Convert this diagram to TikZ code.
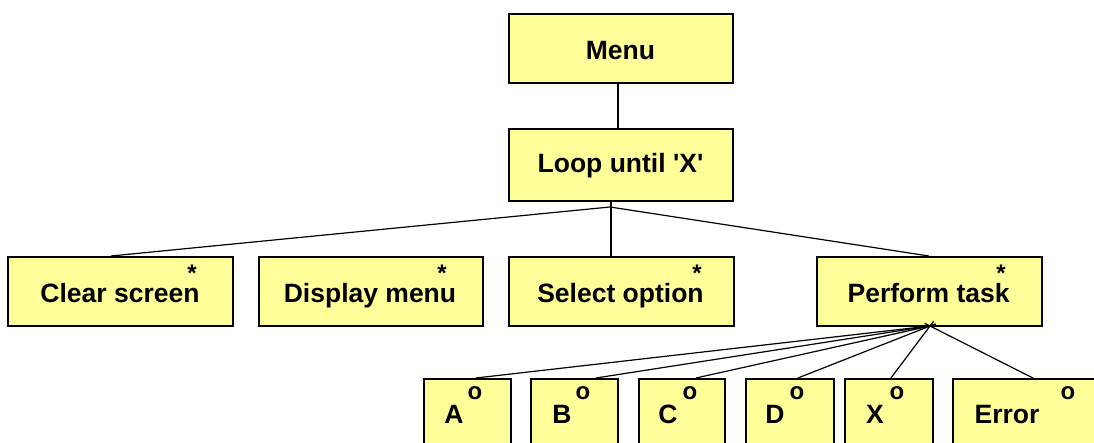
\documentclass[tikz,border=0pt]{standalone}
\usepackage{fontspec}
\setmainfont{Liberation Sans}
\definecolor{boxfill}{HTML}{FFFF99}
\tikzset{
  box/.style={draw=black, line width=1.8pt, fill=boxfill, inner sep=0pt, anchor=north west},
  txt/.style={font=\fontsize{26.5}{30}\selectfont\bfseries, anchor=base, inner sep=0pt},
  tag/.style={font=\fontsize{24}{28}\selectfont\bfseries, anchor=base, inner sep=0pt},
  conn/.style={line width=1.2pt},
}
\begin{document}
\begin{tikzpicture}[x=1pt,y=-1pt]
\useasboundingbox (0,0) rectangle (1094,443);
\clip (0,0) rectangle (1094,443);
% boxes
\node[box, minimum width=224pt, minimum height=69pt] (menu) at (508,13) {};
\node[box, minimum width=224pt, minimum height=72pt] (loop) at (508,128) {};
\node[box, minimum width=225pt, minimum height=69pt] (clear) at (7,256) {};
\node[box, minimum width=224pt, minimum height=69pt] (display) at (258,256) {};
\node[box, minimum width=225pt, minimum height=69pt] (select) at (508,256) {};
\node[box, minimum width=225pt, minimum height=69pt] (perform) at (816,256) {};
\node[box, minimum width=87pt, minimum height=80pt] (a) at (423,378) {};
\node[box, minimum width=87pt, minimum height=80pt] (b) at (530,378) {};
\node[box, minimum width=86pt, minimum height=80pt] (c) at (638,378) {};
\node[box, minimum width=88pt, minimum height=80pt] (d) at (745,378) {};
\node[box, minimum width=88pt, minimum height=80pt] (x) at (844,378) {};
\node[box, minimum width=160pt, minimum height=80pt] (err) at (952,378) {};
% texts
\node[txt] (menuT) at (620.5,59.3) {Menu};
\node[txt] (loopT) at (620.5,172.7) {Loop until \textquotesingle X\textquotesingle};
\node[txt] (clearT) at (120,302.5) {Clear screen};
\node[txt] (displayT) at (370,302.5) {Display menu};
\node[txt] (selectT) at (620.5,302.5) {Select option};
\node[txt] (performT) at (928.7,302.5) {Perform task};
\node[tag] (clearS) at (192,281.5) {*};
\node[tag] (displayS) at (442,281.5) {*};
\node[tag] (selectS) at (697,281.5) {*};
\node[tag] (performS) at (1001,281.5) {*};
\node[txt] (aT) at (454,423) {A};
\node[txt] (bT) at (562,423) {B};
\node[txt] (cT) at (668,423) {C};
\node[txt] (dT) at (775,423) {D};
\node[txt] (xT) at (875,423) {X};
\node[txt] (errT) at (1007,423) {Error};
\node[tag] (aO) at (475,399.5) {o};
\node[tag] (bO) at (583,399.5) {o};
\node[tag] (cO) at (690,399.5) {o};
\node[tag] (dO) at (797,399.5) {o};
\node[tag] (xO) at (897,399.5) {o};
\node[tag] (errO) at (1068,399.5) {o};
% connectors
\coordinate (j1) at (610,207);
\coordinate (j2) at (930,326);
\draw[conn] ([xshift=-3pt]menu.south) -- ([xshift=-3pt]loop.north);
\draw[conn] ([xshift=-10pt]loop.south) -- ([xshift=-10.5pt]select.north);
\draw[conn] (j1) -- ([xshift=-9.5pt]clear.north);
\draw[conn] (j1) -- ([xshift=-0.5pt]perform.north);
\draw[conn, shorten >=-6pt] ([xshift=8.5pt]a.north) -- (j2);
\draw[conn, shorten >=-6pt] ([xshift=21.5pt]b.north) -- (j2);
\draw[conn, shorten >=-6pt] ([xshift=14pt]c.north) -- (j2);
\draw[conn, shorten >=-6pt] ([xshift=8pt]d.north) -- (j2);
\draw[conn, shorten >=-6pt] ([xshift=2pt]x.north) -- (j2);
\draw[conn, shorten >=-6pt] (err.north) -- (j2);
\end{tikzpicture}
\end{document}
